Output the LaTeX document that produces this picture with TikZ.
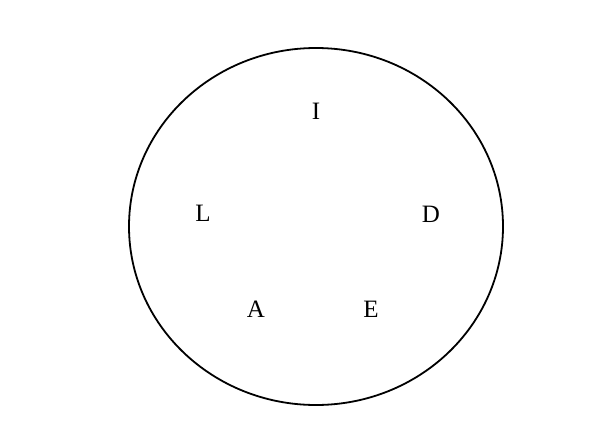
\documentclass[tikz,border=0pt]{standalone}
\usepackage{fontspec}
\setmainfont{Liberation Serif}
\usetikzlibrary{shapes.geometric}
\begin{document}
\begin{tikzpicture}[x=1pt,y=1pt,
  letter/.style={font=\fontsize{25}{25}\selectfont, inner sep=0pt, anchor=center}]
\useasboundingbox (0,0) rectangle (604,421);
\node[draw, line width=1.8pt, ellipse, minimum width=374pt, minimum height=357pt, inner sep=0pt] (c) at (316,194.5) {};
\node[letter] (I) at (316,310) {I};
\node[letter] (L) at (203,208) {L};
\node[letter] (D) at (431,207) {D};
\node[letter] (A) at (256,112) {A};
\node[letter] (E) at (371,112) {E};
\end{tikzpicture}
\end{document}
